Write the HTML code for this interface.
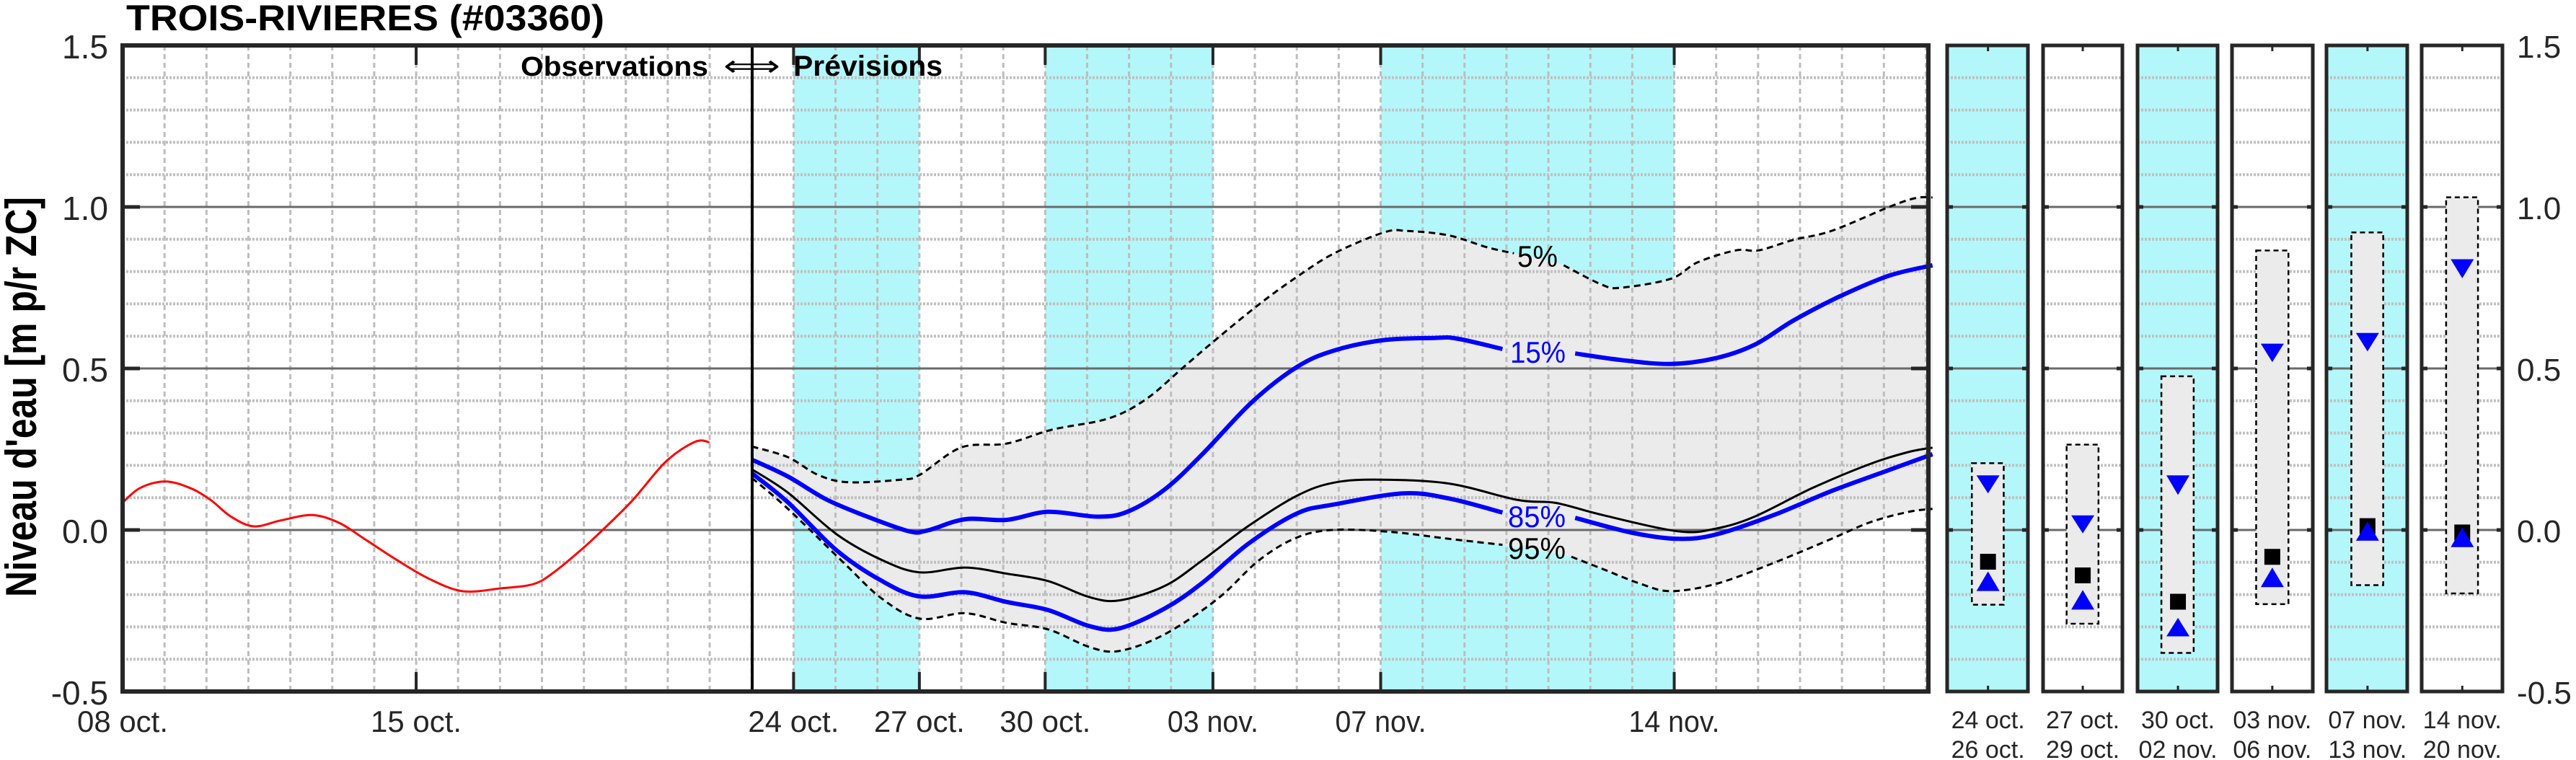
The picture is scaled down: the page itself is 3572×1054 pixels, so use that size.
<!DOCTYPE html>
<html><head><meta charset="utf-8">
<style>
html,body{margin:0;padding:0;background:#fff;}
svg{display:block;}
text{font-family:"Liberation Sans Narrow","Liberation Sans",sans-serif;}
</style></head>
<body>
<svg id="s" xmlns="http://www.w3.org/2000/svg" width="3572" height="1054" viewBox="0 0 3572 1054">
<g id="bg"></g>
<g id="grid"></g>
<g id="curves"></g>
<g id="panels"></g>
<g id="frame"></g>
<text x="175" y="42" font-size="50" font-weight="bold" textLength="663" lengthAdjust="spacingAndGlyphs">TROIS-RIVIERES (#03360)</text>
<text x="722" y="105" font-size="38" font-weight="bold" textLength="260" lengthAdjust="spacingAndGlyphs">Observations</text>
<text x="1003" y="105" font-size="40" textLength="79" lengthAdjust="spacingAndGlyphs" font-family="DejaVu Sans, sans-serif">⟺</text>
<text x="1100" y="105" font-size="40" font-weight="bold" textLength="207" lengthAdjust="spacingAndGlyphs">Prévisions</text>
<text transform="translate(50,828) rotate(-90)" x="0" y="0" font-size="60" font-weight="bold" textLength="555" lengthAdjust="spacingAndGlyphs" style="font-family:'Liberation Sans',sans-serif">Niveau d'eau [m p/r ZC]</text>
<text x="2104" y="370" font-size="42" textLength="56" lengthAdjust="spacingAndGlyphs">5%</text>
<text x="2094" y="503" font-size="42" fill="#0000ff" textLength="77" lengthAdjust="spacingAndGlyphs">15%</text>
<text x="2091" y="731" font-size="42" fill="#0000ff" textLength="80" lengthAdjust="spacingAndGlyphs">85%</text>
<text x="2091" y="775" font-size="42" textLength="80" lengthAdjust="spacingAndGlyphs">95%</text>
<g id="labels"></g>
</svg>
<script>
(function(){
var NS="http://www.w3.org/2000/svg";
function el(p,t,a,txt){var e=document.createElementNS(NS,t);for(var k in a)e.setAttribute(k,a[k]);if(txt!==undefined)e.textContent=txt;document.getElementById(p).appendChild(e);return e;}
var L=170,R=2674,T=63,B=959,DIV=1043;
function X(d){return 170+58.15*d;}
function Y(v){return 735-448*v;}
function z4(a){return a.map(function(p){return [160+p[0]/1.742,560+p[1]/3];});}
function z5(a){return a.map(function(p){return [1040+p[0]/1.912,250+p[1]/2.24];});}
function z6(a){return a.map(function(p){return [1850+p[0]/1.885,200+p[1]/2.412];});}
function cr(pts){var d="M"+pts[0][0].toFixed(1)+","+pts[0][1].toFixed(1);
 for(var i=0;i<pts.length-1;i++){var p0=pts[i-1]||pts[i],p1=pts[i],p2=pts[i+1],p3=pts[i+2]||p2;
 var c1=[p1[0]+(p2[0]-p0[0])/6,p1[1]+(p2[1]-p0[1])/6],c2=[p2[0]-(p3[0]-p1[0])/6,p2[1]-(p3[1]-p1[1])/6];
 d+=" C"+c1[0].toFixed(1)+","+c1[1].toFixed(1)+" "+c2[0].toFixed(1)+","+c2[1].toFixed(1)+" "+p2[0].toFixed(1)+","+p2[1].toFixed(1);}
 return d;}
var CY="#b3f7fa";
[[16,19],[22,26],[30,37]].forEach(function(b){el("bg","rect",{x:X(b[0]),y:T,width:X(b[1])-X(b[0]),height:B-T,fill:CY});});
var p5a=z5([[5,827],[100,860],[180,915],[260,938],[400,930],[450,915],[560,830],[680,818],[800,775],[950,740],[1050,680],[1150,580],[1240,490],[1350,385],[1450,300]]);
var p5b=z6([[0,365],[130,295],[190,290],[300,305],[400,345],[470,365]]);
var p5c=z6([[600,405],[700,470],[750,480],[880,450],[950,395],[1050,355],[1110,355],[1200,320],[1300,290],[1450,210],[1520,180],[1564,178]]);
var p15a=z5([[5,868],[100,920],[200,990],[300,1040],[420,1090],[470,1088],[570,1053],[680,1055],[790,1030],[920,1045],[1000,1030],[1100,960],[1200,850],[1330,690],[1450,580]]);
var p15b=z6([[0,690],[130,655],[260,648],[320,650],[440,685]]);
var p15c=z6([[630,700],[750,722],[880,735],[1000,715],[1100,670],[1200,590],[1320,510],[1450,440],[1564,405]]);
var pm=z5([[5,898],[100,970],[230,1100],[350,1180],[450,1218],[570,1203],[680,1222],[790,1245],[900,1295],[980,1305],[1100,1260],[1200,1180],[1320,1075],[1450,980]]).concat(z6([[0,1132],[120,1122],[300,1135],[480,1190],[580,1200],[700,1240],[900,1295],[1000,1285],[1100,1245],[1250,1150],[1400,1070],[1500,1030],[1564,1015]]));
var p85a=z5([[5,910],[100,1000],[230,1150],[350,1245],[450,1293],[570,1280],[680,1310],[790,1335],[900,1385],[980,1392],[1100,1330],[1200,1250],[1320,1130],[1450,1035]]);
var p85b=z6([[0,1205],[180,1168],[300,1185],[440,1232]]);
var p85c=z6([[630,1250],[780,1300],[900,1320],[1000,1305],[1150,1240],[1300,1160],[1450,1090],[1564,1037]]);
var p95a=z5([[5,925],[100,1020],[250,1190],[350,1300],[450,1362],[570,1345],[680,1375],[790,1395],[900,1450],[980,1462],[1100,1410],[1240,1300],[1350,1180],[1450,1110]]);
var p95b=z6([[0,1290],[150,1297],[300,1320],[440,1340]]);
var p95c=z6([[620,1380],[700,1420],[800,1470],[880,1495],[1000,1470],[1150,1400],[1300,1320],[1400,1265],[1500,1230],[1564,1220]]);
var upper=p5a.concat(p5b,p5c), lower=p95a.concat(p95b,p95c);
var fd=cr(upper)+" L"+cr(lower.slice().reverse()).slice(1)+" Z";
el("bg","path",{d:fd,fill:"#ebebeb"});
for(var d=1;d<=43;d++){el("grid","line",{x1:X(d),y1:T,x2:X(d),y2:B,stroke:"#bdbdbd","stroke-width":3,"stroke-dasharray":"7,5"});}
for(var i=-4;i<=14;i++){var v=i/10;if(i%5===0)continue;el("grid","line",{x1:L,y1:Y(v),x2:R,y2:Y(v),stroke:"#c0c0c0","stroke-width":4,"stroke-dasharray":"3,2"});}
[0,0.5,1.0].forEach(function(v){el("grid","line",{x1:L,y1:Y(v),x2:R,y2:Y(v),stroke:"#6a6a6a","stroke-width":3});});
function line(p,c,w,da){var a={d:cr(p),fill:"none",stroke:c,"stroke-width":w,"stroke-linejoin":"round"};if(da)a["stroke-dasharray"]=da;el("curves","path",a);}
var red=z4([[18,410],[60,350],[120,323],[180,350],[230,400],[280,470],[335,510],[400,485],[475,463],[540,495],[600,560],[680,650],[760,730],[840,780],[930,768],[1010,750],[1060,700],[1130,600],[1180,520],[1250,400],[1330,240],[1400,158],[1435,160]]);
line(red,"#ff0000",3);
line(p5a.concat(p5b),"#000",3,"9,6");line(p5c,"#000",3,"9,6");
line(p95a.concat(p95b),"#000",3,"9,6");line(p95c,"#000",3,"9,6");
line(pm,"#000",3);
line(p15a.concat(p15b),"#0000ff",6);line(p15c,"#0000ff",6);
line(p85a.concat(p85b),"#0000ff",6);line(p85c,"#0000ff",6);
el("frame","line",{x1:DIV,y1:T,x2:DIV,y2:B,stroke:"#000","stroke-width":4});
[7,16,19,22,26,30,37].forEach(function(d){el("frame","line",{x1:X(d),y1:B,x2:X(d),y2:B-27,stroke:"#262626","stroke-width":4});el("frame","line",{x1:X(d),y1:T,x2:X(d),y2:T+27,stroke:"#262626","stroke-width":4});});
[-0.5,0,0.5,1,1.5].forEach(function(v){el("frame","line",{x1:L,y1:Y(v),x2:L+24,y2:Y(v),stroke:"#262626","stroke-width":5});el("frame","line",{x1:R,y1:Y(v),x2:R-24,y2:Y(v),stroke:"#262626","stroke-width":5});});
el("frame","rect",{x:L,y:T,width:R-L,height:B-T,fill:"none",stroke:"#262626","stroke-width":6});
[["1.5",1.5],["1.0",1],["0.5",0.5],["0.0",0],["-0.5",-0.5]].forEach(function(t){el("labels","text",{x:150,y:Y(t[1])+18,"font-size":46,"text-anchor":"end",fill:"#262626",style:"font-family:'Liberation Sans',sans-serif"},t[0]);
 el("labels","text",{x:3490,y:Y(t[1])+17,"font-size":44,fill:"#262626",style:"font-family:'Liberation Sans',sans-serif"},t[0]);});
[["08 oct.",0],["15 oct.",7],["24 oct.",16],["27 oct.",19],["30 oct.",22],["03 nov.",26],["07 nov.",30],["14 nov.",37]].forEach(function(t){el("labels","text",{x:X(t[1]),y:1015,"font-size":42,"text-anchor":"middle",fill:"#262626",textLength:126,lengthAdjust:"spacingAndGlyphs"},t[0]);});
var P=[[181,143,218,953,1243,978,1015,1155,1175,1215,1,"24 oct.","26 oct."],
[404,366,441,915,1282,1060,1097,1183,1213,1253,0,"27 oct.","29 oct."],
[628,589,665,775,1342,978,1018,1237,1270,1308,1,"30 oct.","02 nov."],
[850,812,888,517,1242,708,746,1145,1167,1207,0,"03 nov.","06 nov."],
[1074,1036,1111,480,1203,686,724,1082,1073,1112,1,"07 nov.","13 nov."],
[1297,1259,1334,408,1220,535,574,1095,1085,1125,0,"14 nov.","20 nov."]];
var PX=[[2700,2812],[2833,2943],[2964,3075],[3095,3207],[3226,3338],[3358,3470]];
function zx(d){return 2650+d/1.697;} function zy(d){return (d-3.6)/1.478;}
P.forEach(function(p,i){var x1=PX[i][0],x2=PX[i][1];
 if(p[10])el("panels","rect",{x:x1,y:T,width:x2-x1,height:B-T,fill:CY});
 for(var k=-4;k<=14;k++){if(k%5===0)continue;el("panels","line",{x1:x1,y1:Y(k/10),x2:x2,y2:Y(k/10),stroke:"#c0c0c0","stroke-width":4,"stroke-dasharray":"3,2"});}
 [0,0.5,1].forEach(function(v){el("panels","line",{x1:x1,y1:Y(v),x2:x2,y2:Y(v),stroke:"#6a6a6a","stroke-width":3});
  el("panels","line",{x1:x1,y1:Y(v),x2:x1+8,y2:Y(v),stroke:"#262626","stroke-width":5});el("panels","line",{x1:x2-8,y1:Y(v),x2:x2,y2:Y(v),stroke:"#262626","stroke-width":5});});
 var cx=zx(p[0]);
 el("panels","rect",{x:zx(p[1]),y:zy(p[3]),width:zx(p[2])-zx(p[1]),height:zy(p[4])-zy(p[3]),fill:"#ebebeb",stroke:"#000","stroke-width":2.5,"stroke-dasharray":"7,5"});
 el("panels","polygon",{points:(cx-16)+","+zy(p[5])+" "+(cx+16)+","+zy(p[5])+" "+cx+","+zy(p[6]),fill:"#0000ff"});
 el("panels","rect",{x:cx-11,y:zy(p[7])-11,width:22,height:22,fill:"#000"});
 el("panels","polygon",{points:(cx-16)+","+zy(p[9])+" "+(cx+16)+","+zy(p[9])+" "+cx+","+zy(p[8]),fill:"#0000ff"});
 el("panels","line",{x1:cx,y1:T,x2:cx,y2:T+8,stroke:"#262626","stroke-width":3});
 el("panels","line",{x1:cx,y1:B,x2:cx,y2:B-8,stroke:"#262626","stroke-width":3});
 el("panels","rect",{x:x1,y:T,width:x2-x1,height:B-T,fill:"none",stroke:"#262626","stroke-width":5});
 el("labels","text",{x:cx,y:1010,"font-size":34,"text-anchor":"middle",fill:"#262626",style:"font-family:'Liberation Sans',sans-serif"},p[11]);
 el("labels","text",{x:cx,y:1051,"font-size":34,"text-anchor":"middle",fill:"#262626",style:"font-family:'Liberation Sans',sans-serif"},p[12]);
});
})();
</script>
</body></html>
